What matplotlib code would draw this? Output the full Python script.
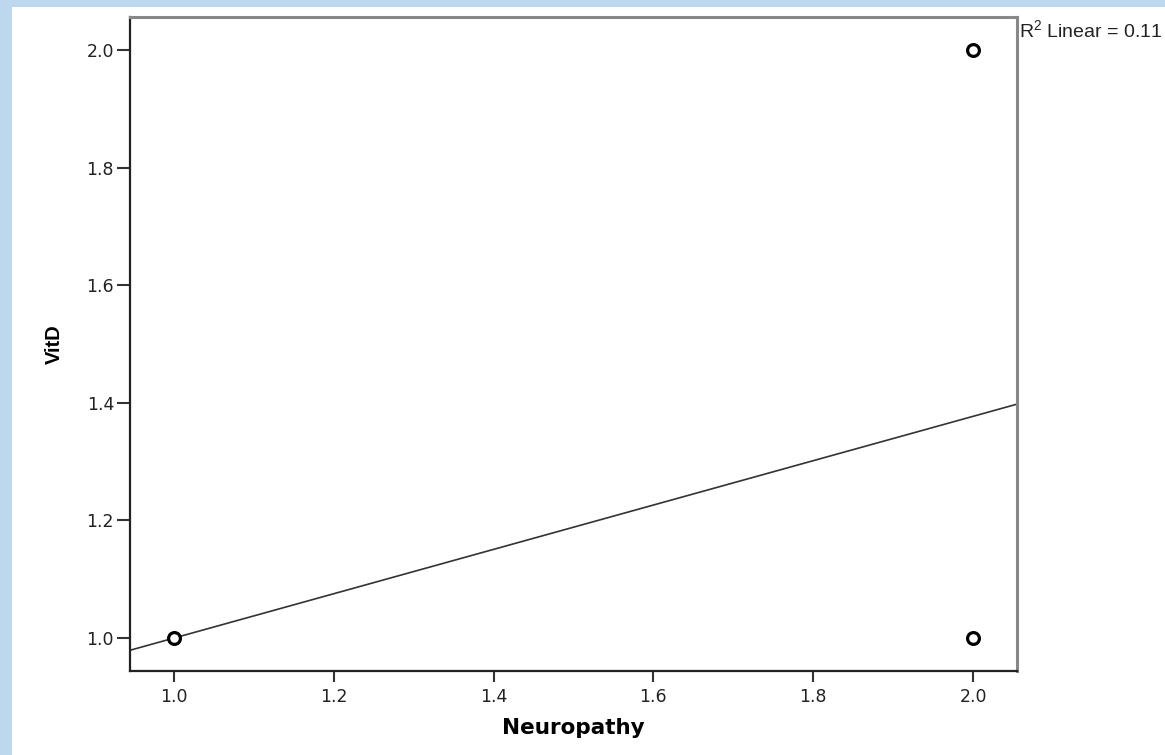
import matplotlib
matplotlib.use('Agg')
import matplotlib.pyplot as plt
from matplotlib.patches import Rectangle
import numpy as np

# data
neuropathy = [1.0, 2.0, 2.0]
vitd = [1.0, 2.0, 1.0]
fit_intercept = 0.623
fit_slope = 0.377
r2_linear = 0.11
x_ticks = [1.0, 1.2, 1.4, 1.6, 1.8, 2.0]
y_ticks = [1.0, 1.2, 1.4, 1.6, 1.8, 2.0]

plt.rcParams['font.family'] = ['DejaVu Sans']
plt.rcParams['mathtext.fontset'] = 'custom'
plt.rcParams['mathtext.rm'] = 'Liberation Sans'
plt.rcParams['mathtext.default'] = 'rm'

fig = plt.figure(figsize=(11.65, 7.55), dpi=100, facecolor='#bdd7ee')
# white panel inside the blue frame
fig.add_artist(Rectangle((12 / 1165, 0), 1, 1 - 7 / 755, transform=fig.transFigure,
                         facecolor='white', edgecolor='none', zorder=-10))

ax = fig.add_axes([130 / 1165, 84 / 755, 887 / 1165, 654 / 755])
ax.set_zorder(1)
ax.set_facecolor('white')

xlim = (0.945, 2.055)
ylim = (0.944, 2.056)
ax.set_xlim(xlim)
ax.set_ylim(ylim)

xs = np.array(xlim)
ax.plot(xs, fit_intercept + fit_slope * xs, color='#333333', lw=1.2, zorder=2)
ax.plot(neuropathy, vitd, linestyle='none', marker='o', markersize=8.5,
        markerfacecolor='white', markeredgecolor='black', markeredgewidth=2.3, zorder=3)

ax.set_xticks(x_ticks)
ax.set_yticks(y_ticks)
ax.set_xticklabels([f'{t:.1f}' for t in x_ticks])
ax.set_yticklabels([f'{t:.1f}' for t in y_ticks])
ax.tick_params(direction='out', width=1.5, color='#333333',
               labelsize=12.5, labelcolor='#222222')
ax.tick_params(axis='y', length=9.5, pad=2)
ax.tick_params(axis='x', length=8, pad=4)

for side in ['left', 'bottom']:
    ax.spines[side].set_color('#222222')
    ax.spines[side].set_linewidth(1.6)
for side in ['top', 'right']:
    ax.spines[side].set_color('#888888')
    ax.spines[side].set_linewidth(2.2)

ax.set_xlabel('Neuropathy', fontsize=15.5, fontweight='bold', labelpad=9)
ax.set_ylabel('VitD', fontsize=14.5, fontweight='bold', family='Liberation Sans',
              labelpad=16)

ax.text(1.002, 0.997, f'R$^2$ Linear = {r2_linear:.2f}', transform=ax.transAxes,
        fontsize=14, family='Liberation Sans', ha='left', va='top', color='#222222')

fig.savefig('out.png', dpi=100, facecolor=fig.get_facecolor())
